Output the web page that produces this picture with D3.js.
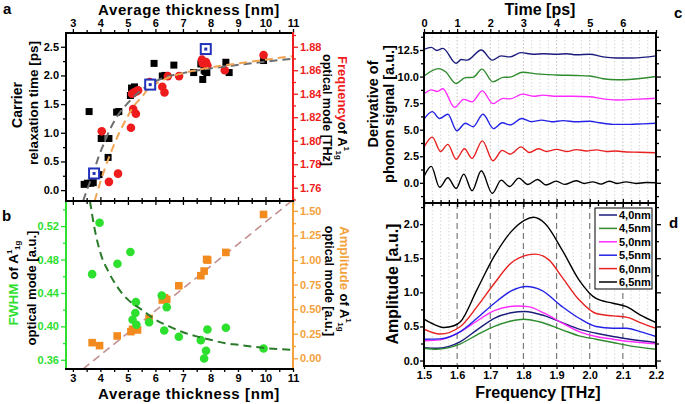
<!DOCTYPE html>
<html><head><meta charset="utf-8">
<script src="https://cdn.jsdelivr.net/npm/d3@7"></script>
<style>
body{margin:0;background:#fff;}
svg text{font-family:"Liberation Sans",Arial,Helvetica,sans-serif;font-weight:bold;}
</style></head><body>
<svg id="chart" width="685" height="404"></svg>
<script>
// ---------------- DATA ----------------
const thicknessTicks = [3,4,5,6,7,8,9,10,11];
// panel a: carrier relaxation time [ps] vs thickness [nm]
const relaxTime = [[3.41,0.10],[3.53,0.12],[3.65,0.12],[3.74,0.13],[3.59,1.37],[3.95,0.27],[4.03,0.90],[4.31,0.90],[4.28,0.57],[4.59,1.36],[4.67,1.37],[5.09,1.65],[5.13,1.78],[5.24,1.80],[5.17,1.69],[5.83,1.85],[5.95,2.21],[6.25,1.99],[6.35,2.00],[6.67,2.18],[7.39,2.05],[7.65,2.20],[7.72,1.93],[7.77,2.09],[7.81,2.07],[7.87,2.05],[8.56,2.23],[8.68,2.05],[9.93,2.26]];
const relaxHighlight = [[3.77,0.29],[5.81,1.84],[7.83,2.46]];
const relaxFit = [[3.37,-0.19],[3.55,0.05],[3.74,0.3],[3.95,0.6],[4.1,0.78],[4.35,1.06],[4.6,1.28],[5.0,1.52],[5.65,1.8],[6.37,1.97],[7.0,2.04],[7.57,2.09],[8.77,2.17],[9.8,2.23],[11.0,2.29]];
// panel a: A1g frequency [THz]
const freqA1g = [[4.05,1.808],[4.31,1.765],[4.64,1.772],[5.11,1.811],[5.19,1.827],[5.29,1.823],[5.15,1.840],[5.22,1.841],[5.31,1.842],[5.37,1.843],[5.79,1.850],[6.25,1.846],[6.33,1.841],[6.45,1.855],[6.86,1.855],[7.69,1.869],[7.77,1.866],[7.84,1.867],[7.89,1.864],[7.72,1.866],[8.52,1.860],[9.93,1.873]];
const freqFit = [[3.79,1.7487],[4.0,1.765],[4.33,1.787],[4.69,1.807],[4.93,1.818],[5.17,1.828],[5.53,1.838],[5.77,1.845],[6.13,1.850],[6.5,1.854],[7.09,1.858],[8.17,1.863],[9.37,1.867],[11.0,1.872]];
// panel b: FWHM [a.u.]
const fwhmA1g = [[3.70,0.4625],[3.97,0.524],[4.62,0.475],[5.09,0.489],[5.27,0.416],[5.17,0.408],[5.29,0.429],[5.31,0.402],[5.77,0.405],[6.23,0.437],[6.41,0.423],[6.32,0.395],[6.85,0.3875],[7.65,0.3835],[7.77,0.3616],[7.84,0.3708],[7.89,0.3963],[8.56,0.3983],[9.93,0.3736]];
const fwhmFit = [[3.62,0.55],[3.8,0.515],[4.0,0.488],[4.3,0.465],[4.6,0.448],[5.0,0.432],[5.5,0.42],[6.0,0.408],[6.5,0.4],[7.0,0.393],[7.5,0.388],[8.0,0.384],[8.5,0.38],[9.0,0.378],[9.5,0.376],[10.0,0.374],[11.0,0.372]];
// panel b: amplitude [a.u.]
const ampA1g = [[3.70,0.159],[3.97,0.129],[4.61,0.227],[5.11,0.271],[5.17,0.295],[5.27,0.295],[5.35,0.288],[5.77,0.406],[6.25,0.593],[6.41,0.599],[6.33,0.616],[6.85,0.738],[7.65,0.840],[7.77,0.887],[7.86,1.006],[7.90,0.999],[8.56,1.077],[9.93,1.463]];
const ampFit = [[3.37,-0.109],[10.95,1.6]];
// panel c: derivative of phonon signal vs time [ps]
const timeTicks = [0,1,2,3,4,5,6];
const trace40 = [[0,12.55],[0.22,12.75],[0.39,12.45],[0.57,12.65],[0.97,11.25],[1.12,11.6],[1.3,11.55],[1.73,12.5],[2.06,11.55],[2.33,11.95],[2.58,11.85],[2.93,12.25],[3.3,12.1],[3.6,12.15],[4.0,12.1],[4.3,12.15],[4.6,12.05],[5.0,12.1],[5.4,11.85],[5.8,11.75],[6.3,11.75],[7.0,11.95]];
const trace45 = [[0,10.05],[0.44,10.75],[0.65,10.45],[0.97,9.35],[1.25,9.9],[1.48,9.92],[1.75,10.7],[2.08,9.5],[2.38,9.92],[2.6,9.95],[2.98,10.4],[3.4,10.25],[4.0,10.15],[4.6,10.1],[5.0,10.05],[5.4,9.8],[5.8,9.7],[6.3,9.75],[7.0,10.0]];
const trace50 = [[0,8.35],[0.22,8.75],[0.4,8.6],[0.57,8.85],[0.92,7.1],[1.2,7.85],[1.45,7.62],[1.76,8.65],[2.08,7.45],[2.38,7.95],[2.6,7.9],[2.98,8.35],[3.3,8.15],[3.6,8.25],[4.0,8.15],[4.5,8.15],[5.0,8.1],[5.4,7.9],[5.8,7.8],[6.3,7.85],[7.0,7.95]];
const trace55 = [[0,6.0],[0.25,6.7],[0.47,6.05],[0.72,6.45],[0.99,4.9],[1.25,5.6],[1.48,5.28],[1.78,6.45],[2.1,5.1],[2.36,5.65],[2.6,5.45],[2.95,6.05],[3.25,5.75],[3.55,5.9],[3.85,5.75],[4.2,5.85],[4.6,5.75],[5.0,5.8],[5.3,5.65],[5.7,5.5],[6.2,5.5],[6.6,5.55],[7.0,5.6]];
const trace60 = [[0,3.35],[0.25,4.3],[0.5,2.95],[0.72,3.62],[0.97,2.22],[1.22,3.2],[1.45,2.3],[1.76,3.95],[2.08,2.08],[2.36,3.05],[2.6,2.7],[2.93,3.38],[3.18,2.85],[3.45,3.2],[3.7,2.95],[4.0,3.15],[4.3,2.95],[4.6,3.12],[4.9,3.0],[5.2,3.1],[5.5,2.95],[5.8,3.0],[6.1,2.9],[6.5,2.88],[7.0,2.83]];
const trace65 = [[0,0.6],[0.22,1.55],[0.47,-0.42],[0.72,0.47],[0.97,-0.53],[1.2,0.82],[1.45,-0.75],[1.73,1.13],[2.06,-1.0],[2.33,0.25],[2.58,-0.35],[2.86,0.44],[3.13,-0.16],[3.43,0.31],[3.68,-0.2],[3.99,0.16],[4.24,-0.15],[4.59,0.19],[4.84,-0.06],[5.09,0.09],[5.34,-0.12],[5.59,0.15],[5.84,-0.06],[6.09,0.09],[6.4,-0.06],[6.7,0.03],[7.0,0.0]];
// panel d: amplitude spectra vs frequency [THz]
const freqTicks = [1.5,1.6,1.7,1.8,1.9,2.0,2.1,2.2];
const spec40 = [[1.5,0.19],[1.538,0.18],[1.61,0.279],[1.66,0.45],[1.712,0.62],[1.763,0.70],[1.804,0.72],[1.865,0.655],[1.917,0.557],[1.968,0.46],[2.019,0.40],[2.07,0.352],[2.121,0.313],[2.2,0.264]];
const spec45 = [[1.5,0.18],[1.538,0.166],[1.61,0.245],[1.66,0.377],[1.712,0.5],[1.763,0.58],[1.8,0.606],[1.845,0.572],[1.917,0.45],[1.968,0.362],[2.019,0.313],[2.07,0.264],[2.121,0.215],[2.2,0.166]];
const spec50 = [[1.5,0.29],[1.548,0.303],[1.61,0.425],[1.66,0.58],[1.712,0.733],[1.783,0.80],[1.814,0.79],[1.865,0.69],[1.917,0.55],[1.968,0.425],[2.019,0.352],[2.07,0.313],[2.121,0.279],[2.2,0.245]];
const spec55 = [[1.5,0.313],[1.548,0.318],[1.61,0.425],[1.66,0.62],[1.712,0.84],[1.763,1.02],[1.809,1.085],[1.855,1.03],[1.917,0.79],[1.968,0.62],[2.019,0.5],[2.07,0.474],[2.111,0.474],[2.152,0.425],[2.2,0.352]];
const spec60 = [[1.5,0.46],[1.548,0.39],[1.61,0.5],[1.66,0.79],[1.712,1.13],[1.763,1.43],[1.814,1.55],[1.835,1.56],[1.876,1.48],[1.917,1.22],[1.968,0.89],[2.019,0.69],[2.07,0.655],[2.111,0.636],[2.152,0.557],[2.2,0.474]];
const spec65 = [[1.5,0.606],[1.53,0.53],[1.561,0.484],[1.59,0.51],[1.61,0.57],[1.66,1.04],[1.712,1.53],[1.763,1.89],[1.804,2.06],[1.83,2.1],[1.865,2.01],[1.917,1.62],[1.968,1.18],[2.019,0.91],[2.07,0.84],[2.111,0.79],[2.152,0.67],[2.2,0.557]];
const seriesNames = ["4,0nm","4,5nm","5,0nm","5,5nm","6,0nm","6,5nm"];
const seriesColors = ["#1c1c7c","#2e8b2e","#ff2bff","#2323e6","#e82020","#000000"];

// ---------------- DRAW ----------------
const FONT = '"Liberation Sans", Arial, Helvetica, sans-serif';
const svg = d3.select("#chart");
const A = {l:66, r:293, t:33, m:201, b:369};
const C = {l:424, r:656, t:33, m:203, b:366};
const RED="#ee1c1c", GREEN="#2ee02e", ORANGE="#f4a13c";

const xAB = d3.scaleLinear([2.75, 11], [A.l, A.r]);
const yA = d3.scaleLinear([-0.19, 2.74], [A.m, A.t]);
const yA2 = d3.scaleLinear([1.7487, 1.8917], [A.m, A.t]);
const yB = d3.scaleLinear([0.349, 0.55], [A.b, A.m]);
const yB2 = d3.scaleLinear([-0.109, 1.6], [A.b, A.m]);
const xC = d3.scaleLinear([0, 7], [C.l, C.r]);
const yC = d3.scaleLinear([-1.9, 14.1], [C.m, C.t]);
const xD = d3.scaleLinear([1.5, 2.2], [C.l, C.r]);
const yD = d3.scaleLinear([-0.08, 2.31], [C.b, C.m]);

const defs = svg.append("defs");
function clip(id, x0, y0, x1, y1){
  defs.append("clipPath").attr("id", id).append("rect").attr("x",x0).attr("y",y0).attr("width",x1-x0).attr("height",y1-y0);
  return svg.append("g").attr("clip-path", `url(#${id})`);
}

function drawAxis(gen, scale, pos, major, minor, fmt, color, o={}){
  const isH = (gen===d3.axisTop||gen===d3.axisBottom);
  const g = svg.append("g").attr("transform", isH?`translate(0,${pos})`:`translate(${pos},0)`);
  if(minor) g.append("g").call(gen(scale).tickValues(minor).tickSize(o.minorSize||3).tickFormat(""));
  g.append("g").call(gen(scale).tickValues(major).tickSize(o.size||5).tickPadding(o.pad||2).tickFormat(fmt||(()=>"")));
  g.selectAll(".domain").remove();
  g.selectAll("line").attr("stroke", color).attr("stroke-width", 1.3);
  g.selectAll("text").attr("fill", color).style("font", `bold 11px ${FONT}`);
  return g;
}
const rng = (a,b,s)=>d3.range(Math.round((b-a)/s)+1).map(i=>+(a+i*s).toFixed(4));

// ---- grids in c and d
const gridC = clip("clipC", C.l, C.t, C.r, C.m);
gridC.selectAll("line").data(rng(0.25,6.75,0.25)).join("line")
  .attr("x1", d=>xC(d)).attr("x2", d=>xC(d)).attr("y1", C.t).attr("y2", C.m)
  .attr("stroke", d=>Number.isInteger(d)?"#b0b0b0":"#cfcfcf").attr("stroke-width",0.8).attr("stroke-dasharray","1.5,2");
const gridD = clip("clipD", C.l, C.m, C.r, C.b);
gridD.selectAll("line.minor").data(rng(1.525,2.175,0.025).filter(d=>Math.abs(d*10-Math.round(d*10))>1e-6)).join("line")
  .attr("x1", d=>xD(d)).attr("x2", d=>xD(d)).attr("y1", C.m).attr("y2", C.b)
  .attr("stroke","#cfcfcf").attr("stroke-width",0.8).attr("stroke-dasharray","1.5,2");
gridD.selectAll("line.major").data([1.6,1.7,1.8,1.9,2.0,2.1]).join("line").attr("class","major")
  .attr("x1", d=>xD(d)).attr("x2", d=>xD(d)).attr("y1", C.m).attr("y2", C.b)
  .attr("stroke","#7a7a7a").attr("stroke-width",1.2).attr("stroke-dasharray","6,4");

// ---- panel a
const gA = clip("clipA", A.l, A.t, A.r, A.m);
const lineA = d3.line().x(d=>xAB(d[0])).y(d=>yA(d[1])).curve(d3.curveMonotoneX);
const lineA2 = d3.line().x(d=>xAB(d[0])).y(d=>yA2(d[1])).curve(d3.curveMonotoneX);
gA.selectAll("rect.sq").data(relaxTime).join("rect").attr("class","sq")
  .attr("x", d=>xAB(d[0])-3.5).attr("y", d=>yA(d[1])-3.5).attr("width",7).attr("height",7).attr("fill","#000");
gA.selectAll("circle.fr").data(freqA1g).join("circle").attr("class","fr")
  .attr("cx", d=>xAB(d[0])).attr("cy", d=>yA2(d[1])).attr("r",4.3).attr("fill",RED);
gA.append("path").attr("d", lineA(relaxFit)).attr("fill","none").attr("stroke","#6e6e6e").attr("stroke-width",2).attr("stroke-dasharray","8,5");
gA.append("path").attr("d", lineA2(freqFit)).attr("fill","none").attr("stroke","#f2a453").attr("stroke-width",2).attr("stroke-dasharray","8,5");
const hl = gA.selectAll("g.hl").data(relaxHighlight).join("g").attr("class","hl")
  .attr("transform", d=>`translate(${xAB(d[0])},${yA(d[1])})`);
hl.append("rect").attr("x",-5).attr("y",-5).attr("width",10).attr("height",10).attr("fill","#fff").attr("stroke","#2233bb").attr("stroke-width",2);
hl.append("rect").attr("x",-1.5).attr("y",-1.5).attr("width",3).attr("height",3).attr("fill","#2233bb");

// ---- panel b
const gB = clip("clipB", A.l, A.m, A.r, A.b);
const lineB = d3.line().x(d=>xAB(d[0])).y(d=>yB(d[1])).curve(d3.curveMonotoneX);
const lineB2 = d3.line().x(d=>xAB(d[0])).y(d=>yB2(d[1]));
gB.append("path").attr("d", lineB2(ampFit)).attr("fill","none").attr("stroke","#c39090").attr("stroke-width",1.6).attr("stroke-dasharray","8,5");
gB.selectAll("rect.am").data(ampA1g).join("rect").attr("class","am")
  .attr("x", d=>xAB(d[0])-3.8).attr("y", d=>yB2(d[1])-3.8).attr("width",7.6).attr("height",7.6).attr("fill","#f28a1e");
gB.selectAll("circle.fw").data(fwhmA1g).join("circle").attr("class","fw")
  .attr("cx", d=>xAB(d[0])).attr("cy", d=>yB(d[1])).attr("r",4.3).attr("fill",GREEN);
gB.append("path").attr("d", lineB(fwhmFit)).attr("fill","none").attr("stroke","#2a7a2a").attr("stroke-width",2).attr("stroke-dasharray","8,5");

// ---- panel c
const lineC = d3.line().x(d=>xC(d[0])).y(d=>yC(d[1])).curve(d3.curveMonotoneX);
[trace40,trace45,trace50,trace55,trace60,trace65].forEach((tr,i)=>{
  gridC.append("path").attr("d", lineC(tr)).attr("fill","none").attr("stroke", seriesColors[i]).attr("stroke-width",1.4);
});
// ---- panel d
const lineD = d3.line().x(d=>xD(d[0])).y(d=>yD(d[1])).curve(d3.curveMonotoneX);
[spec40,spec45,spec50,spec55,spec60,spec65].forEach((sp,i)=>{
  gridD.append("path").attr("d", lineD(sp)).attr("fill","none").attr("stroke", seriesColors[i]).attr("stroke-width",1.4);
});

// ---- axes a/b
const f1 = d3.format(".1f"), f2 = d3.format(".2f"), f0 = d3.format("d");
drawAxis(d3.axisTop, xAB, A.t, thicknessTicks, rng(3.5,10.5,1), f0, "#000", {size:4});
drawAxis(d3.axisBottom, xAB, A.b, thicknessTicks, rng(3.5,10.5,1), f0, "#000", {size:3, pad:2});
drawAxis(d3.axisBottom, xAB, A.m, thicknessTicks, rng(3.5,10.5,1), null, "#000", {size:4});
drawAxis(d3.axisTop, xAB, A.m, thicknessTicks, rng(3.5,10.5,1), null, "#000", {size:4});
drawAxis(d3.axisLeft, yA, A.l, rng(0,2.5,0.5), rng(0.25,2.25,0.5), f1, "#000");
drawAxis(d3.axisRight, yA2, A.r, rng(1.76,1.88,0.02), rng(1.75,1.89,0.02), f2, RED);
drawAxis(d3.axisLeft, yB, A.l, rng(0.36,0.52,0.04), rng(0.38,0.54,0.04), f2, GREEN);
drawAxis(d3.axisRight, yB2, A.r, rng(0,1.5,0.25), rng(0.125,1.375,0.25), f2, ORANGE);

// ---- axes c/d
const minT = rng(0.25,6.75,0.25).filter(v=>!Number.isInteger(v));
drawAxis(d3.axisTop, xC, C.t, timeTicks, minT.concat([7]), f0, "#000", {size:4});
drawAxis(d3.axisBottom, xC, C.m, timeTicks, minT, null, "#000", {size:4});
drawAxis(d3.axisTop, xC, C.m, timeTicks, minT, null, "#000", {size:4});
drawAxis(d3.axisBottom, xD, C.b, freqTicks, rng(1.55,2.15,0.1), f1, "#000", {size:3, pad:2});
drawAxis(d3.axisLeft, yC, C.l, rng(0,12.5,2.5), rng(-1.25,13.75,2.5), f1, "#000", {size:4, pad:1});
drawAxis(d3.axisRight, yC, C.r, rng(0,12.5,2.5), rng(-1.25,13.75,2.5), null, "#000");
drawAxis(d3.axisLeft, yD, C.l, rng(0,2.0,0.5), rng(0.25,2.25,0.5), f1, "#000", {size:4, pad:1});
drawAxis(d3.axisRight, yD, C.r, rng(0,2.0,0.5), rng(0.25,2.25,0.5), null, "#000");

// ---- frames
function seg(x1,y1,x2,y2,c,w=2){svg.append("line").attr("x1",x1).attr("y1",y1).attr("x2",x2).attr("y2",y2).attr("stroke",c).attr("stroke-width",w).attr("stroke-linecap","square");}
seg(A.l,A.t,A.r,A.t,"#000"); seg(A.l,A.t,A.l,A.m,"#000"); seg(A.r,A.t,A.r,A.m,RED);
seg(A.l,A.m,A.l,A.b,GREEN); seg(A.r,A.m,A.r,A.b,ORANGE); seg(A.l,A.b,A.r,A.b,"#000"); seg(A.l,A.m,A.r,A.m,"#000");
seg(C.l,C.t,C.r,C.t,"#000"); seg(C.l,C.t,C.l,C.b,"#000"); seg(C.r,C.t,C.r,C.b,"#000"); seg(C.l,C.b,C.r,C.b,"#000"); seg(C.l,C.m,C.r,C.m,"#000");

// ---- legend d
const lg = svg.append("g").attr("transform","translate(595,208)");
lg.append("rect").attr("width",57).attr("height",81).attr("fill","#fff").attr("stroke","#000").attr("stroke-width",1);
seriesNames.forEach((n,i)=>{
  const y = 7+i*13.4;
  lg.append("line").attr("x1",4).attr("x2",22).attr("y1",y).attr("y2",y).attr("stroke",seriesColors[i]).attr("stroke-width",1.5);
  lg.append("text").attr("x",24).attr("y",y+4).text(n).style("font",`bold 11px ${FONT}`).attr("fill","#000");
});

// ---- titles
function htext(x,y,s,size,ls){const t=svg.append("text").attr("x",x).attr("y",y).attr("text-anchor","middle").style("font",`bold ${size}px ${FONT}`).text(s); if(ls) t.style("letter-spacing",ls+"px");}
htext(189,15,"Average thickness [nm]",15,0.6);
htext(189,399,"Average thickness [nm]",15,0.6);
htext(540,15,"Time [ps]",16);
htext(538,398,"Frequency [THz]",16);
function vtext(cx,cy,rot,parts,size){
  const bx = rot<0 ? cx+0.35*size : cx-0.35*size;
  const t = svg.append("text").attr("transform",`translate(${bx},${cy}) rotate(${rot})`).attr("text-anchor","middle").style("font",`bold ${size}px ${FONT}`);
  parts.forEach(p=>{
    const s = t.append("tspan").text(p.t).attr("fill",p.c||"#000");
    if(p.dy) s.attr("dy",p.dy);
    if(p.fs) s.style("font-size",p.fs+"px");
  });
}
const A1g = [{t:"A"},{t:"1",fs:8,dy:-6},{t:"1g",fs:8,dy:8}];
vtext(17,105,-90,[{t:"Carrier"}],14);
vtext(33,103,-90,[{t:"relaxation time [ps]"}],13.5);
vtext(343,108,90,[{t:"Frequency",c:RED},{t:"of "}].concat(A1g),13);
vtext(327,110,90,[{t:"optical mode [THz]"}],12.5);
vtext(13,283,-90,[{t:"FWHM",c:GREEN},{t:" of "}].concat(A1g),13.5);
vtext(31,288,-90,[{t:"optical mode [a.u.]"}],13);
vtext(345,279,90,[{t:"Amplitude",c:ORANGE},{t:" of "}].concat(A1g),13);
vtext(329,281,90,[{t:"optical mode [a.u.]"}],12.5);
vtext(373,104,-90,[{t:"Derivative of"}],14.5);
vtext(389,114,-90,[{t:"phonon signal [a.u.]"}],14.5);
vtext(392,284,-90,[{t:"Amplitude [a.u.]"}],16);

// panel letters
[["a",3,14],["b",2,221],["c",674,18],["d",669,228]].forEach(([s,x,y])=>{
  svg.append("text").attr("x",x).attr("y",y).text(s).style("font",`bold 15px ${FONT}`);
});
</script></body></html>
